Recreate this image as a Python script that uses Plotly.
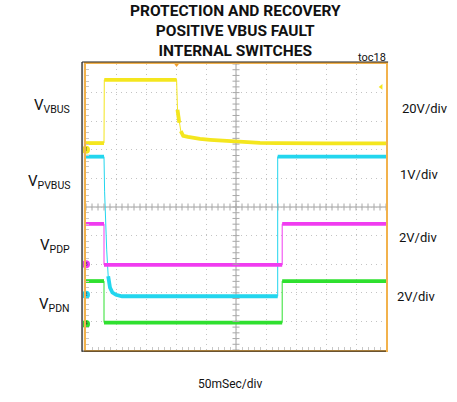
import numpy as np
import plotly.graph_objects as go

# time base: 50 ms/div, 10 divisions
time_per_div = 50
n_div = 10

# channel settings (V/div, ground position in divisions from bottom)
channels = ["VBUS", "PVBUS", "PDP", "PDN"]
volts_per_div = [20, 1, 2, 2]
ground_div = [7.0, 1.93, 3.0, 0.91]
colors = ["#f4e61e", "#22d6ee", "#f03cf0", "#2fe02f"]
marker_ids = ["1", "2", "3", "4"]

# traces (ms, volts)
vbus_t = [0, 30, 30.5, 151, 152.5, 155.5, 158, 162, 170, 178, 190, 207, 230, 251, 270, 290, 320, 340, 400, 500]
vbus_v = [4.7, 4.7, 48.9, 48.9, 28, 18.9, 13, 9.8, 9.0, 8.4, 7.6, 7.0, 6.3, 5.8, 5.2, 4.8, 4.6, 4.5, 4.5, 4.5]

pvbus_t = [0, 30, 31, 32.5, 34.5, 37, 40, 44, 50, 60, 319.5, 319.5, 500]
pvbus_v = [4.83, 4.83, 3.6, 2.4, 1.57, 0.65, 0.25, 0.08, 0.0, -0.05, -0.05, 4.83, 4.83]

pdp_t = [0, 30, 30, 327, 327, 500]
pdp_v = [2.82, 2.82, -0.05, -0.05, 2.82, 2.82]

pdn_t = [0, 30, 30, 327, 327, 500]
pdn_v = [3.0, 3.0, 0.1, 0.1, 3.0, 3.0]

trace_t = [vbus_t, pvbus_t, pdp_t, pdn_t]
trace_v = [vbus_v, pvbus_v, pdp_v, pdn_v]

left_labels = ["V<sub>VBUS</sub>", "V<sub>PVBUS</sub>", "V<sub>PDP</sub>", "V<sub>PDN</sub>"]
left_label_y = [0.854, 0.588, 0.365, 0.157]
right_labels = ["20V/div", "1V/div", "2V/div", "2V/div"]
right_label_y = [0.845, 0.612, 0.393, 0.186]
right_label_x = [1.045, 1.041, 1.038, 1.031]

FONT = "Roboto, Liberation Sans, Arial"

fig = go.Figure()


def thick_copy(t, y):
    # the noisy band only on the flat/slow parts, fast edges stay thin
    xs, ys = [t[0]], [y[0]]
    for i in range(1, len(t)):
        if t[i] - t[i - 1] < 3:
            xs.append(None)
            ys.append(None)
        xs.append(t[i])
        ys.append(y[i])
    return xs, ys


for i in range(len(channels)):
    ydiv = [ground_div[i] + v / volts_per_div[i] for v in trace_v[i]]
    fig.add_trace(go.Scatter(x=trace_t[i], y=ydiv, mode="lines",
                             line=dict(color=colors[i], width=1), hoverinfo="skip"))
    tx, ty = thick_copy(trace_t[i], ydiv)
    fig.add_trace(go.Scatter(x=tx, y=ty, mode="lines", connectgaps=False,
                             line=dict(color=colors[i], width=3.8), hoverinfo="skip"))

# graticule ticks on the centre lines
mid_t = n_div * time_per_div / 2
minor_x = np.arange(0, n_div * time_per_div + 1, time_per_div / 5)
minor_y = np.arange(0, n_div + 0.01, 0.2)
fig.add_trace(go.Scatter(x=minor_x, y=[n_div / 2] * len(minor_x), mode="markers",
                         marker=dict(symbol="line-ns", size=5, line=dict(color="#a8a8a8", width=1)),
                         hoverinfo="skip"))
fig.add_trace(go.Scatter(x=[mid_t] * len(minor_y), y=minor_y, mode="markers",
                         marker=dict(symbol="line-ew", size=5, line=dict(color="#a8a8a8", width=1)),
                         hoverinfo="skip"))

# ground markers
fig.add_trace(go.Scatter(x=[0] * 4, y=ground_div, mode="markers+text",
                         marker=dict(symbol="circle", size=8, color=colors),
                         text=marker_ids, textposition="middle center",
                         textfont=dict(size=6, color="#333333"),
                         cliponaxis=False, hoverinfo="skip"))

# trigger position / level
fig.add_trace(go.Scatter(x=[151], y=[n_div], mode="markers",
                         marker=dict(symbol="triangle-down", size=6, color="#f0a030"),
                         cliponaxis=False, hoverinfo="skip"))
fig.add_trace(go.Scatter(x=[492], y=[ground_div[0] + 44 / 20], mode="markers",
                         marker=dict(symbol="triangle-left", size=5, color=colors[0]),
                         cliponaxis=False, hoverinfo="skip"))

fig.add_shape(type="line", x0=mid_t, x1=mid_t, y0=0, y1=n_div,
              line=dict(color="#a0a0a0", width=1), layer="below")
fig.add_shape(type="line", x0=0, x1=n_div * time_per_div, y0=n_div / 2, y1=n_div / 2,
              line=dict(color="#a0a0a0", width=1), layer="below")

# dark outer frame (left, top, bottom)
fig.add_shape(type="line", xref="paper", yref="paper", x0=-0.013, x1=-0.013, y0=-0.006, y1=1.007,
              line=dict(color="#666666", width=2))
fig.add_shape(type="line", xref="paper", yref="paper", x0=-0.013, x1=1.007, y0=1.007, y1=1.007,
              line=dict(color="#222222", width=1))
fig.add_shape(type="line", xref="paper", yref="paper", x0=-0.013, x1=1.0, y0=-0.004, y1=-0.004,
              line=dict(color="#222222", width=1))

for lab, yy in zip(left_labels, left_label_y):
    fig.add_annotation(x=-0.047, y=yy, xref="paper", yref="paper", text=lab, showarrow=False,
                       xanchor="right", yanchor="middle", font=dict(family=FONT, size=15, color="#111111"))
for lab, xx, yy in zip(right_labels, right_label_x, right_label_y):
    fig.add_annotation(x=xx, y=yy, xref="paper", yref="paper", text=lab, showarrow=False,
                       xanchor="left", yanchor="middle", font=dict(family=FONT, size=13, color="#111111"))

title_lines = ["PROTECTION AND RECOVERY", "POSITIVE VBUS FAULT", "INTERNAL SWITCHES"]
fig.add_annotation(x=0.497, y=350 / 286, xref="paper", yref="paper",
                   text="<br>".join("<b>%s</b>" % s for s in title_lines),
                   showarrow=False, xanchor="center", yanchor="top", align="center",
                   font=dict(family=FONT, size=15.5, color="#111111"))

fig.add_annotation(x=1.007, y=(350 - 58) / 286, xref="paper", yref="paper", text="toc18", showarrow=False,
                   xanchor="right", yanchor="middle", font=dict(family=FONT, size=11, color="#111111"))
fig.add_annotation(x=0.48, y=(350 - 383.5) / 286, xref="paper", yref="paper", text="50mSec/div",
                   showarrow=False, xanchor="center", yanchor="middle",
                   font=dict(family=FONT, size=12, color="#111111"))

fig.update_xaxes(range=[0, n_div * time_per_div], dtick=time_per_div, showticklabels=False,
                 showgrid=True, gridcolor="#c4c4c4", griddash="1px,4px", gridwidth=1,
                 showline=True, linecolor="#f2b24c", linewidth=1.5, mirror=True,
                 ticks="", minor=dict(ticks="inside", dtick=time_per_div / 5, ticklen=3,
                                      tickcolor="#c8c8c8", showgrid=False),
                 zeroline=False, fixedrange=True)
fig.update_yaxes(range=[0, n_div], dtick=1, showticklabels=False,
                 showgrid=True, gridcolor="#c4c4c4", griddash="1px,4px", gridwidth=1,
                 showline=True, linecolor="#f2b24c", linewidth=1.5, mirror=True,
                 ticks="", minor=dict(ticks="inside", dtick=0.2, ticklen=3,
                                      tickcolor="#c8c8c8", showgrid=False),
                 zeroline=False, fixedrange=True)

fig.update_layout(width=457, height=402, margin=dict(l=86, r=71, t=64, b=52),
                  paper_bgcolor="white", plot_bgcolor="white", showlegend=False)

# drop the browser's default 8px body margin so the figure sits at the page corner
fig.write_html("out.html", config={"displayModeBar": False},
               post_script="document.body.style.margin='0px';")
